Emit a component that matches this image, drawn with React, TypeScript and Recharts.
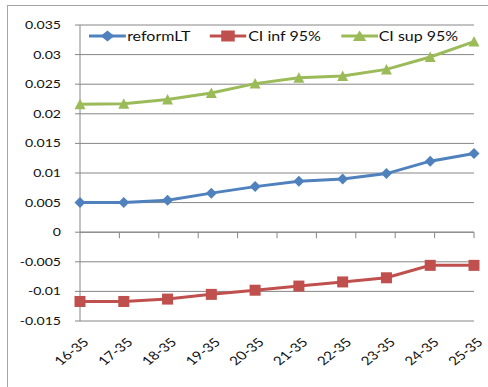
import { LineChart, Line, XAxis, YAxis, CartesianGrid, Legend, ReferenceLine } from "recharts";

const ages = ["16-35", "17-35", "18-35", "19-35", "20-35", "21-35", "22-35", "23-35", "24-35", "25-35"];
const reformLT = [0.005, 0.005, 0.0054, 0.0066, 0.0077, 0.0086, 0.009, 0.0099, 0.012, 0.0133];
const ciInf = [-0.0117, -0.0117, -0.0113, -0.0105, -0.0098, -0.0091, -0.0084, -0.0077, -0.0056, -0.0056];
const ciSup = [0.0216, 0.0217, 0.0224, 0.0235, 0.0251, 0.0261, 0.0264, 0.0275, 0.0296, 0.0322];
const yTicks = [-0.015, -0.01, -0.005, 0, 0.005, 0.01, 0.015, 0.02, 0.025, 0.03, 0.035];
const seriesOrder = ["reformLT", "ciInf", "ciSup"];

const data = ages.map((age, i) => ({ age, reformLT: reformLT[i], ciInf: ciInf[i], ciSup: ciSup[i] }));

const BLUE = "#4F81BD";
const RED = "#C0504D";
const GREEN = "#9BBB59";
const AXIS = "#868686";
const FONT = "Lato, 'DejaVu Sans', sans-serif";
const STRETCH = 1.28;

function Marker({ kind, cx, cy, color }: { kind: string; cx: number; cy: number; color: string }) {
  if (kind === "ciInf") {
    return <rect x={cx - 5.5} y={cy - 5.5} width={11} height={11} fill={color} />;
  }
  if (kind === "ciSup") {
    return <polygon points={`${cx},${cy - 5.5} ${cx + 5.5},${cy + 5} ${cx - 5.5},${cy + 5}`} fill={color} />;
  }
  return <polygon points={`${cx},${cy - 5.5} ${cx + 5.5},${cy} ${cx},${cy + 5.5} ${cx - 5.5},${cy}`} fill={color} />;
}

const dotFor = (kind: string, color: string) => (props: any) => (
  <Marker key={`${kind}-${props.index}`} kind={kind} cx={props.cx} cy={props.cy} color={color} />
);

function YTick({ x, y, payload }: any) {
  const v = String(Number(Number(payload.value).toFixed(3)));
  return (
    <g transform={`translate(${x},${y}) scale(${STRETCH},1)`}>
      <text x={0} y={0} dy="0.36em" textAnchor="end" fontFamily={FONT} fontSize={11} fill="#111">
        {v}
      </text>
    </g>
  );
}

function XTick({ x, y, payload }: any) {
  return (
    <g transform={`translate(${x + 6},${y + 19}) scale(${STRETCH},1) rotate(-45)`}>
      <text x={0} y={0} dy="0.36em" textAnchor="end" fontFamily={FONT} fontSize={12} fill="#111">
        {payload.value}
      </text>
    </g>
  );
}

// x axis crosses at zero, with tick marks between categories
function ZeroAxis(props: any) {
  const { x1, y1, x2 } = props;
  const step = (x2 - x1) / ages.length;
  return (
    <g>
      <line x1={x1} y1={y1} x2={x2} y2={y1} stroke={AXIS} strokeWidth={1} />
      {ages.map((_, i) => (
        <line key={i} x1={x1 + step * (i + 1)} y1={y1} x2={x1 + step * (i + 1)} y2={y1 + 6} stroke={AXIS} strokeWidth={1} />
      ))}
    </g>
  );
}

function LegendContent({ payload }: any) {
  const items = [...(payload || [])].sort(
    (a: any, b: any) => seriesOrder.indexOf(a.dataKey) - seriesOrder.indexOf(b.dataKey)
  );
  return (
    <div
      style={{
        display: "flex",
        alignItems: "center",
        fontFamily: FONT,
        fontSize: 13,
        color: "#111",
        transform: "scaleX(1.23)",
        transformOrigin: "left center",
        whiteSpace: "nowrap",
      }}
    >
      {items.map((entry: any) => (
        <div key={entry.dataKey} style={{ display: "flex", alignItems: "center", marginRight: 16 }}>
          <svg width={30} height={12}>
            <line x1={0} y1={6} x2={30} y2={6} stroke={entry.color} strokeWidth={3} />
            <Marker kind={entry.dataKey} cx={15} cy={6} color={entry.color} />
          </svg>
          <span style={{ marginLeft: 1 }}>{entry.value}</span>
        </div>
      ))}
    </div>
  );
}

export default function App() {
  return (
    <div style={{ position: "fixed", inset: 0, overflow: "hidden", background: "#fff" }}>
      <div
        style={{
          position: "absolute",
          left: 7,
          top: 5,
          width: 600,
          height: 600,
          border: "1px solid #a6a6a6",
        }}
      />
      <div style={{ position: "absolute", left: 0, top: 0 }}>
        <LineChart width={488} height={387} data={data} margin={{ top: 25, right: 14, left: 20, bottom: 16 }}>
          <CartesianGrid horizontal vertical={false} stroke={AXIS} />
          <XAxis
            dataKey="age"
            axisLine={false}
            tickLine={false}
            tickSize={0}
            tickMargin={0}
            height={50}
            interval={0}
            tick={<XTick />}
          />
          <YAxis
            width={60}
            domain={[-0.015, 0.035]}
            ticks={yTicks}
            interval={0}
            axisLine={{ stroke: AXIS }}
            tickLine={{ stroke: AXIS }}
            tickSize={5}
            tickMargin={14}
            tick={<YTick />}
          />
          <ReferenceLine y={0} stroke={AXIS} shape={ZeroAxis} />
          <Legend
            layout="horizontal"
            verticalAlign="middle"
            align="center"
            wrapperStyle={{ position: "absolute", top: 28, left: 89, width: "auto" }}
            content={<LegendContent />}
          />
          <Line
            type="linear"
            dataKey="reformLT"
            name="reformLT"
            stroke={BLUE}
            strokeWidth={3}
            dot={dotFor("reformLT", BLUE)}
            activeDot={false}
            isAnimationActive={false}
          />
          <Line
            type="linear"
            dataKey="ciInf"
            name="CI inf 95%"
            stroke={RED}
            strokeWidth={3}
            dot={dotFor("ciInf", RED)}
            activeDot={false}
            isAnimationActive={false}
          />
          <Line
            type="linear"
            dataKey="ciSup"
            name="CI sup 95%"
            stroke={GREEN}
            strokeWidth={3}
            dot={dotFor("ciSup", GREEN)}
            activeDot={false}
            isAnimationActive={false}
          />
        </LineChart>
      </div>
    </div>
  );
}
